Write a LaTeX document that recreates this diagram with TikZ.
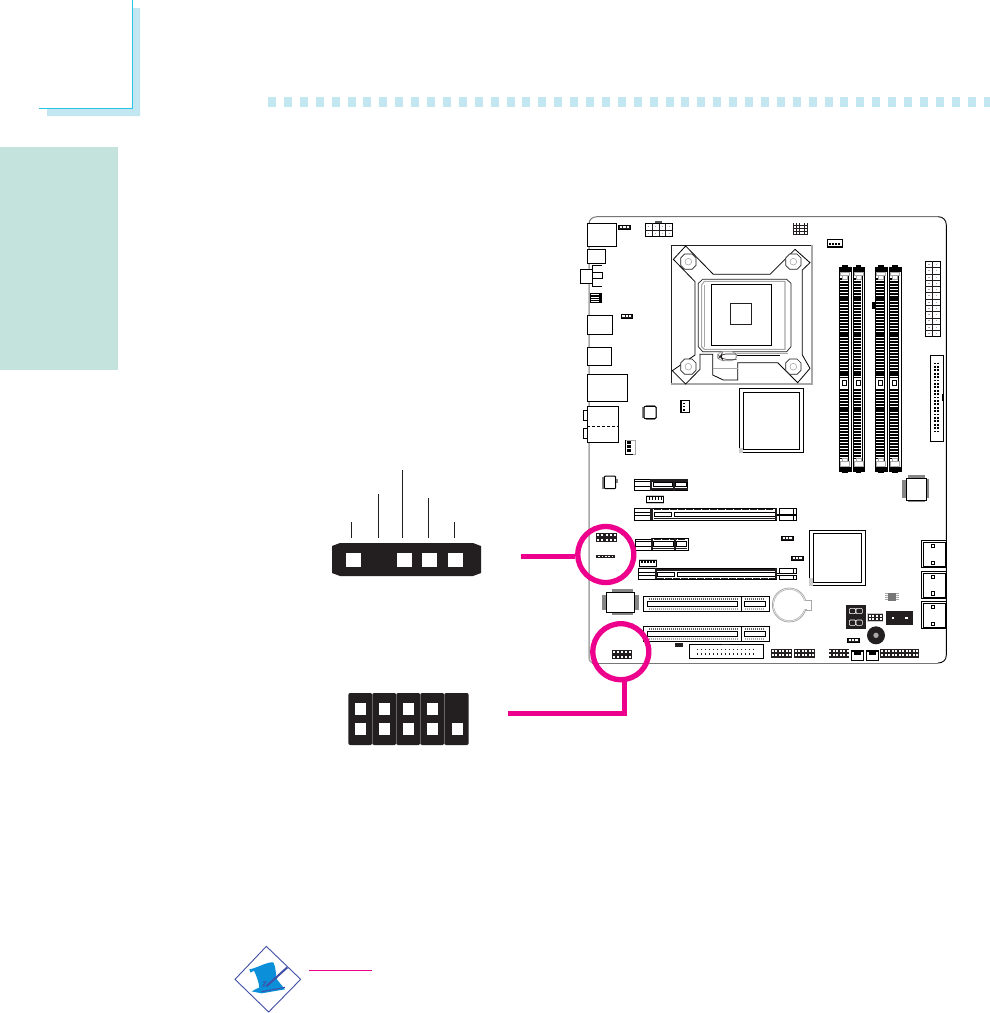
\documentclass[tikz,border=0pt]{standalone}
\definecolor{pk}{HTML}{EC008C}
\definecolor{cy}{HTML}{25C5E6}
\definecolor{lb}{HTML}{C3E7F0}
\definecolor{gn}{HTML}{C4E3DC}
\definecolor{dk}{HTML}{231F20}
\definecolor{gy}{HTML}{A8A8A8}
\definecolor{sc}{HTML}{0A8FD8}
\definecolor{db}{HTML}{3F4FA6}
\tikzset{
  bx/.style={draw=black,line width=.8pt,fill=white},
  ln/.style={draw=black,line width=.8pt},
  thn/.style={draw=dk,line width=.5pt},
  gl/.style={draw=gy,line width=.9pt},
  ring/.style={circle,draw=pk,line width=5.3pt,minimum size=56pt,inner sep=0pt},
  pkl/.style={draw=pk,line width=5pt},
  lead/.style={draw=dk,line width=.8pt},
  shd/.style={fill=gy!80!black,draw=none}
}
\newcommand\Hdr[6]{% x1 y1 x2 y2 cols rows
  \fill[dk] (#1,#2) rectangle (#3,#4);
  \foreach \i in {1,...,#5}{\foreach \j in {1,...,#6}{
    \pgfmathsetmacro\cx{#1+(\i-.5)*(#3-#1)/#5}
    \pgfmathsetmacro\cy{#2+(\j-.5)*(#4-#2)/#6}
    \fill[white] (\cx-3,\cy-3) rectangle (\cx+3,\cy+3);
  }}}
\newcommand\Dimm[1]{%
  \draw[bx] (#1,172) rectangle (#1+35,785);
  \draw[ln] (#1+28,172) -- (#1+28,785);
  \foreach \y in {205,209.5,...,745}{\draw[black,line width=.75pt] (#1+3,\y) -- (#1+25,\y);}
  \foreach \y in {266,372,490,598,720}{\fill[black] (#1+3,\y-2) rectangle (#1+25,\y+2);}
  \fill[white] (#1+2,503) rectangle (#1+27,533);
  \draw[ln] (#1+9,510) rectangle (#1+21,526);
  \fill[black] (#1,172) rectangle (#1+35,187);
  \fill[black] (#1+8,165) rectangle (#1+25,180);
  \draw[gl,fill=white] (#1+4,187) rectangle (#1+30,197);
  \draw[gl,fill=white] (#1+10,197) rectangle (#1+24,208);
  \fill[black] (#1,772) rectangle (#1+35,785);
  \fill[black] (#1+9,768) rectangle (#1+25,790);
  \draw[gl,fill=white] (#1+4,755) rectangle (#1+30,768);
  \draw[gl,fill=white] (#1+10,745) rectangle (#1+24,755);}
\newcommand\Bolt[2]{%
  \draw[draw=dk,line width=.7pt,fill=white] (#1-11,#2-23)--(#1+11,#2-23)--(#1+23,#2-11)--(#1+23,#2+11)--(#1+11,#2+23)--(#1-11,#2+23)--(#1-23,#2+11)--(#1-23,#2-11)--cycle;
  \draw[draw=gy,line width=.6pt] (#1,#2) circle (10);}
\newcommand\Sata[1]{%
  \draw[ln] (454,#1) rectangle (528,#1+82);
  \draw[bx] (460,#1+6) rectangle (526,#1+78);
  \draw[ln] (484,#1+12) rectangle (494,#1+22);
  \draw[ln] (484,#1+62) rectangle (494,#1+72);}
\newcommand\Smallh[2]{%
  \draw[draw=black,line width=.7pt,fill=dk] (#1,#2) rectangle (#1+35,#2+12);
  \foreach \i in {0,1,2}{\fill[white] (#1+4+\i*10,#2+3) rectangle (#1+11+\i*10,#2+9);}}
\begin{document}
\begin{tikzpicture}[x=1pt,y=-1pt]
\useasboundingbox (0,0) rectangle (990,1013);
\fill[white] (0,0) rectangle (990,1013);
% page furniture
\fill[gn] (0,147) rectangle (118,370);
\fill[lb] (133,8) -- (140,8) -- (140,116) -- (47,116) -- (47,109) -- (133,109) -- cycle;
\draw[cy,line width=1.3pt] (132.7,0) -- (132.7,108.5) -- (39,108.5);
\foreach \i in {0,...,45}{\fill[lb] (268+15.9*\i,97) rectangle (276+15.9*\i,107);}
% board outline
\draw[draw=gy,line width=1.5pt] (589,224) -- (589,657) .. controls (589,660) and (590,662) .. (592,662.7);
\draw[draw=gy!70!black,line width=1pt] (589,224) .. controls (589,220) and (592,216.7) .. (597,216.7) -- (938,216.7);
\draw[draw=black,line width=.9pt] (938,216.7) .. controls (943,216.7) and (946.3,220) .. (946.3,225) -- (946.3,655) .. controls (946.3,660) and (943,663) .. (938,663);
\draw[draw=gy!70!black,line width=1pt] (938,663) -- (592,663);
% --- upper-left region
\begin{scope}[shift={(570,210)},scale=1/3]
\draw[bx] (52,40) rectangle (140,109);
\Smallh{146}{45}
\fill[gy!50!black] (255,33) rectangle (275,40);
\draw[draw=black,line width=.7pt] (226,40) rectangle (308,79);
\draw[thn] (226,60) -- (308,60);
\foreach \x in {246,267,287}{\draw[thn] (\x,40) -- (\x,79);}
\foreach \x in {236,256,277,297}{\fill[gy] (\x-1.5,48) rectangle (\x+1.5,51);\fill[gy] (\x-1.5,68) rectangle (\x+1.5,71);}
\draw[bx] (52,118) rectangle (107,161);
\draw[bx] (31,179) rectangle (67,220);
\draw[ln] (95,166) -- (67,166) -- (67,230) -- (95,230);
\draw[ln] (67,188) -- (97,188) -- (97,206) -- (67,206);
\fill[black] (60,248) rectangle (95,280);
\foreach \y in {252,260,268,274}{\fill[white] (62,\y) rectangle (88,\y+3);}
\draw[bx] (52,316) rectangle (128,373);
\Smallh{153}{313}
\draw[bx] (52,412) rectangle (125,467);
\draw[bx] (52,493) rectangle (172,574);
\draw[bx] (40,602) rectangle (52,632);
\draw[bx] (40,654) rectangle (52,686);
\draw[bx] (52,590) rectangle (145,696);
\draw[draw=black,line width=.9pt,densely dashed] (52,649) -- (145,649);
\fill[shd] (216,592) rectangle (222,624);
\fill[shd] (227,585) rectangle (254,589);
\fill[shd] (258,592) rectangle (262,624);
\fill[shd] (227,626) rectangle (254,630);
\draw[draw=black,line width=1pt,fill=white,rounded corners=1pt] (222,589) rectangle (258,626);
\draw[draw=black,line width=.9pt,fill=white] (330,572) rectangle (359,607);
\fill[black] (330,572) rectangle (336,607);
\foreach \y in {580,590,600}{\fill[black] (340,\y-2) rectangle (346,\y+2);}
% 3-pin connector below the audio stack
\draw[draw=gy,line width=.8pt,fill=white] (166,690) rectangle (197,733);
\draw[ln] (166,690) -- (166,733) -- (188,733);
\foreach \y in {694,706,718}{\fill[black] (172,\y) rectangle (182,\y+7);}
% north bridge
\draw[bx] (508,535) rectangle (699,728);
\draw[ln] (520,547) rectangle (687,717);
\fill[gy!60] (508,715) rectangle (520,728);
\end{scope}
% CPU socket (coordinates of a 3x view from 665,240)
\begin{scope}[shift={(665,240)},scale=1/3]
\draw[draw=dk,line width=.8pt] (19,432) -- (19,15) -- (440,15);
\draw[draw=gy,line width=2pt] (440,15) -- (440,432) -- (19,432);
\draw[ln] (25,58) -- (62,18) -- (145,103) -- (315,103) -- (390,28) -- (435,68) -- (412,90) -- (412,345) -- (435,385) -- (398,428) -- (338,368) -- (218,368) -- (218,420) -- (175,420) -- (143,405) -- (143,343) -- (105,343) -- (105,388) -- (62,432) -- (22,392) -- (90,345) -- (90,125) -- cycle;
\draw[draw=gy,line width=1pt] (143,385) -- (218,385);
\draw[draw=dk,line width=.7pt] (100,130) -- (113,118) -- (365,118) -- (378,130) -- (378,320) -- (365,335) -- (113,335) -- (100,320) -- cycle;
\draw[draw=gy,line width=1.1pt] (118,124) -- (360,124) -- (360,328) -- (118,328) -- (110,320) -- (110,135) -- cycle;
\draw[draw=gy,line width=.8pt] (118,135) -- (118,320);
\draw[ln] (140,132) rectangle (318,315);
\draw[draw=dk,line width=.7pt,fill=white] (195,189) rectangle (258,253);
\draw[draw=gy,line width=1pt] (215,340) -- (370,340);
\draw[ln] (215,346) -- (345,346);
\draw[draw=gy,line width=.9pt,fill=white,rounded corners=5pt] (158,335) -- (158,362) -- (215,362) -- (215,335) -- cycle;
\draw[draw=dk,line width=.6pt,rounded corners=4pt] (215,342) -- (170,342) -- (165,350) -- (172,358) -- (215,358);
\Bolt{70}{65}
\Bolt{385}{65}
\Bolt{70}{380}
\Bolt{385}{380}
\end{scope}
% --- upper-right region
\begin{scope}[shift={(770,210)},scale=1/3]
\Hdr{70}{38}{113}{75}{5}{4}
\draw[draw=black,line width=1pt,fill=white] (172,88) rectangle (216,112);
\foreach \i in {0,1,2,3}{\fill[black] (177+9*\i,98) rectangle (182+9*\i,104);}
\fill[black] (172,108) rectangle (216,112);
\Dimm{208}
\Dimm{249}
\Dimm{316}
\Dimm{358}
\fill[black] (306,276) rectangle (316,296);
% ATX
\fill[gy] (508,165) rectangle (512,375);
\draw[bx] (466,154) rectangle (510,380);
\draw[thn] (488,154) -- (488,380);
\foreach \j in {1,...,11}{\draw[thn] (466,154+\j*18.83) -- (510,154+\j*18.83);}
\foreach \j in {0,...,11}{\fill[gy] (475,162+\j*18.83) rectangle (479,165+\j*18.83);\fill[gy] (497,162+\j*18.83) rectangle (501,165+\j*18.83);}
% IDE
\draw[bx] (481,436) rectangle (521,695);
\fill[black] (516,552) rectangle (520,574);
\foreach \j in {0,...,20}{\fill[black] (492,458+\j*10.2) rectangle (497,463+\j*10.2);\fill[black] (502,458+\j*10.2) rectangle (507,463+\j*10.2);}
\end{scope}
% --- lower-left region
\begin{scope}[shift={(570,440)},scale=1/3]
\fill[shd] (97,112) rectangle (103,146);
\fill[shd] (137,116) rectangle (143,130);
\draw[draw=black,line width=1pt,fill=white,rounded corners=1pt] (103,108) rectangle (137,146);
% PCIe x1 upper
\draw[bx] (193,118) rectangle (353,152);
\draw[ln] (193,138) -- (241,138);
\draw[ln] (193,124) -- (241,124);
\fill[dk] (241,118) rectangle (247,152);
\fill[dk] (247,118) rectangle (353,125);
\fill[dk] (247,143) rectangle (353,150);
\draw[bx] (250,128) rectangle (308,140);
\draw[bx] (316,128) rectangle (348,140);
\fill[dk] (309,118) rectangle (315,152);
% fan 1
\fill[gy!60] (227,165) rectangle (282,192);
\draw[draw=black,line width=1pt,fill=white] (229,168) rectangle (279,188);
\foreach \i in {0,...,4}{\fill[black] (236+\i*9,172) rectangle (241+\i*9,179);}
% PCIe x16 upper
\draw[bx] (193,205) rectangle (241,241);
\draw[ln] (193,218) -- (241,218);
\draw[ln] (193,226) -- (241,226);
\draw[bx] (241,205) rectangle (620,241);
\fill[dk] (241,205) rectangle (250,241);
\draw[bx] (252,216) rectangle (305,230);
\draw[bx] (313,216) rectangle (615,230);
\foreach \x in {252,276,...,610}{\fill[dk] (\x,208) rectangle (\x+21,210);}
\fill[dk] (252,233) rectangle (615,238);
\fill[dk] (615,205) rectangle (620,241);
\draw[bx] (627,205) rectangle (680,222);
\draw[bx] (627,226) rectangle (680,241);
\draw[ln] (620,222) -- (627,222);
\draw[ln] (620,226) -- (627,226);
\draw[ln] (670,205) -- (670,222);
\draw[ln] (670,226) -- (670,241);
% headers by the first ring
\Hdr{79}{279}{140}{305}{5}{2}
\fill[dk] (79,345) rectangle (135,355);
\foreach \i in {0,...,4}{\fill[white] (85+\i*10,348) rectangle (90+\i*10,352);}
% PCIe x1 lower
\draw[bx] (196,298) rectangle (244,330);
\draw[ln] (196,318) -- (244,318);
\draw[ln] (196,305) -- (244,305);
\draw[bx] (244,295) rectangle (356,330);
\draw[bx] (250,305) rectangle (310,320);
\draw[bx] (318,305) rectangle (350,320);
\fill[dk] (244,295) rectangle (250,330);
\fill[dk] (311,295) rectangle (317,330);
\fill[dk] (250,323) rectangle (350,328);
\foreach \x in {252,276,...,340}{\fill[dk] (\x,298) rectangle (\x+21,300);}
% fan 2
\fill[gy!60] (206,356) rectangle (261,383);
\draw[draw=black,line width=1pt,fill=white] (208,360) rectangle (259,380);
\foreach \i in {0,...,4}{\fill[black] (214+\i*9,363) rectangle (219+\i*9,370);}
% PCIe x16 lower
\draw[bx] (205,385) rectangle (255,418);
\draw[ln] (205,397) -- (255,397);
\draw[ln] (205,405) -- (255,405);
\draw[bx] (255,385) rectangle (620,418);
\fill[dk] (255,385) rectangle (260,418);
\fill[dk] (262,387) rectangle (615,393);
\draw[bx] (262,396) rectangle (314,410);
\draw[bx] (322,396) rectangle (615,410);
\foreach \x in {262,286,...,610}{\fill[dk] (\x,413) rectangle (\x+21,415);}
\fill[dk] (615,385) rectangle (620,418);
\draw[bx] (627,385) rectangle (680,401);
\draw[bx] (627,405) rectangle (680,418);
\draw[ln] (620,401) -- (627,401);
\draw[ln] (620,405) -- (627,405);
\draw[ln] (670,385) -- (670,401);
\draw[ln] (670,405) -- (670,418);
% south chip
\fill[shd] (97,465) rectangle (109,510);
\fill[shd] (194,465) rectangle (208,510);
\fill[shd] (125,447) rectangle (190,457);
\fill[shd] (125,518) rectangle (190,526);
\draw[draw=black,line width=1pt,fill=white] (109,457) rectangle (194,518);
% PCI slots
\foreach \yy in {468,558}{
  \draw[bx] (220,\yy) rectangle (597,\yy+47);
  \draw[ln] (515,\yy) -- (515,\yy+47);
  \draw[bx] (232,\yy+16) rectangle (503,\yy+32);
  \draw[bx] (522,\yy+16) rectangle (587,\yy+32);
  \foreach \x in {236,242,...,500}{\fill[dk!70] (\x,\yy+6) rectangle (\x+3,\yy+11);\fill[gy] (\x,\yy+36) rectangle (\x+3,\yy+41);}
  \foreach \x in {526,532,...,584}{\fill[dk!70] (\x,\yy+6) rectangle (\x+3,\yy+11);\fill[gy] (\x,\yy+36) rectangle (\x+3,\yy+41);}
}
\fill[dk] (315,609) rectangle (339,621);
% floppy
\draw[bx] (358,614) rectangle (581,656);
\fill[dk] (457,612) rectangle (480,616);
\foreach \i in {0,...,14}{\fill[dk] (380+\i*12,626) rectangle (384+\i*12,631);\fill[dk] (380+\i*12,639) rectangle (384+\i*12,644);}
\Hdr{126}{630}{187}{656}{5}{2}
\end{scope}
% --- lower-right region
\begin{scope}[shift={(770,440)},scale=1/3]
\fill[shd] (396,120) rectangle (408,175);
\fill[shd] (470,118) rectangle (476,175);
\fill[shd] (414,105) rectangle (465,114);
\fill[shd] (414,180) rectangle (465,186);
\draw[draw=black,line width=1pt,fill=white] (408,114) rectangle (470,180);
\draw[bx] (118,271) rectangle (287,437);
\draw[ln] (130,280) rectangle (275,428);
\fill[gy!60] (118,415) rectangle (130,437);
\Smallh{34}{288}
\Smallh{64}{348}
\Sata{301}
\Sata{393}
\Sata{484}
\foreach \y in {461,467,473,479}{\draw[draw=gy,line width=.5pt] (345,\y) -- (387,\y);}
\fill[gy!70!black] (354,459) rectangle (378,483);
\draw[draw=gy,line width=.7pt,fill=white] (108,481) rectangle (125,511);
\draw[draw=gy,line width=.8pt,fill=white] (58,495) circle (51);
\draw[draw=gy,line width=.5pt] (58,495) circle (47);
\fill[white] (100,484) rectangle (112,508);
\fill[dk] (228,495) rectangle (288,567);
\draw[draw=white,line width=.6pt,rounded corners=1pt] (238,505) rectangle (257,521);
\draw[draw=white,line width=.6pt,rounded corners=1pt] (258,505) rectangle (277,521);
\draw[draw=white,line width=.6pt,rounded corners=1pt] (238,540) rectangle (257,556);
\draw[draw=white,line width=.6pt,rounded corners=1pt] (258,540) rectangle (277,556);
\fill[gy!60] (291,518) rectangle (340,546);
\Hdr{293}{521}{338}{543}{4}{2}
\fill[dk] (348,513) rectangle (429,555);
\fill[white] (365,531) rectangle (372,537);
\fill[white] (406,531) rectangle (413,537);
\fill[dk] (318,586) circle (27);
\fill[gy] (318,586) circle (8);
\Smallh{232}{595}
\Hdr{4}{626}{65}{653}{6}{2}
\Hdr{72}{626}{134}{653}{6}{2}
\Hdr{176}{626}{238}{653}{6}{2}
\Hdr{331}{626}{447}{653}{11}{2}
\foreach \x in {245,289}{
  \draw[bx] (\x,632) rectangle (\x+36,662);
  \fill[black] (\x,632) rectangle (\x+36,637);
  \fill[black] (\x+7,637) rectangle (\x+29,645);
}
\end{scope}
% rings and callouts
\node[ring] (ringa) at (605.8,554.5) {};
\node[ring] (ringb) at (620.8,651.7) {};
\coordinate (calla) at (521,556);
\coordinate (callb) at (508,713);
\coordinate (callc) at (624.5,680);
\draw[pkl] (calla) -- (ringa.west |- calla);
\draw[pkl] (callb) -| (callc);
% enlarged connector 1
\fill[dk] (340,543) -- (473,543) -- (481,546) -- (481,573) -- (473,576) -- (340,576) -- (332,573) -- (332,546) -- cycle;
\foreach \x in {346,397,422,448}{\fill[white] (\x,553) rectangle (\x+15,567);}
\coordinate (pa) at (351.5,538);\coordinate (pb) at (378.3,538);\coordinate (pc) at (402.3,538);\coordinate (pd) at (428.3,538);\coordinate (pe) at (454.3,538);
\draw[lead] (pa) -- ++(0,-16);
\draw[lead] (pb) -- ++(0,-44);
\draw[lead] (pc) -- ++(0,-68);
\draw[lead] (pd) -- ++(0,-40);
\draw[lead] (pe) -- ++(0,-16);
% enlarged connector 2
\fill[dk] (350,695) rectangle (467,743);
\foreach \a/\b in {348.3/372.2,372.2/396.2,396.2/420.2,420.2/444.2,444.2/468.7}{\fill[dk,rounded corners=2pt] (\a,693) rectangle (\b,745);}
\foreach \x in {372.2,396.2,420.2,444.2}{\draw[draw=gy!60!black,line width=.3pt] (\x,695) -- (\x,743);}
\foreach \x in {355,379,403,427}{\fill[white] (\x,703) rectangle (\x+11,715);}
\foreach \x in {355,379,403,427,452}{\fill[white] (\x,723) rectangle (\x+11,735);}
% note icon
\begin{scope}[shift={(220,930)},scale=1/3]
\draw[draw=db,line width=.9pt] (45,148) -- (139,49) -- (242,148) -- (146,246) -- cycle;
\fill[sc] (88,118) .. controls (110,115) and (140,95) .. (160,97) .. controls (170,115) and (165,135) .. (172,150) -- (195,178) -- (125,190) -- (95,184) -- (118,172) .. controls (115,150) and (108,135) .. (102,122) -- (92,128) -- cycle;
\draw[draw=db,line width=2pt] (202,112) -- (140,168);
\draw[draw=db,line width=.8pt] (128,155) -- (138,155) -- (128,168) -- (138,168);
\draw[draw=db,line width=1pt] (125,185) -- (195,172);
\end{scope}
\coordinate (notea) at (309,970.3);\coordinate (noteb) at (372,970.3);
\draw[draw=pk,line width=1pt] (notea) -- (noteb);
\end{tikzpicture}
\end{document}
